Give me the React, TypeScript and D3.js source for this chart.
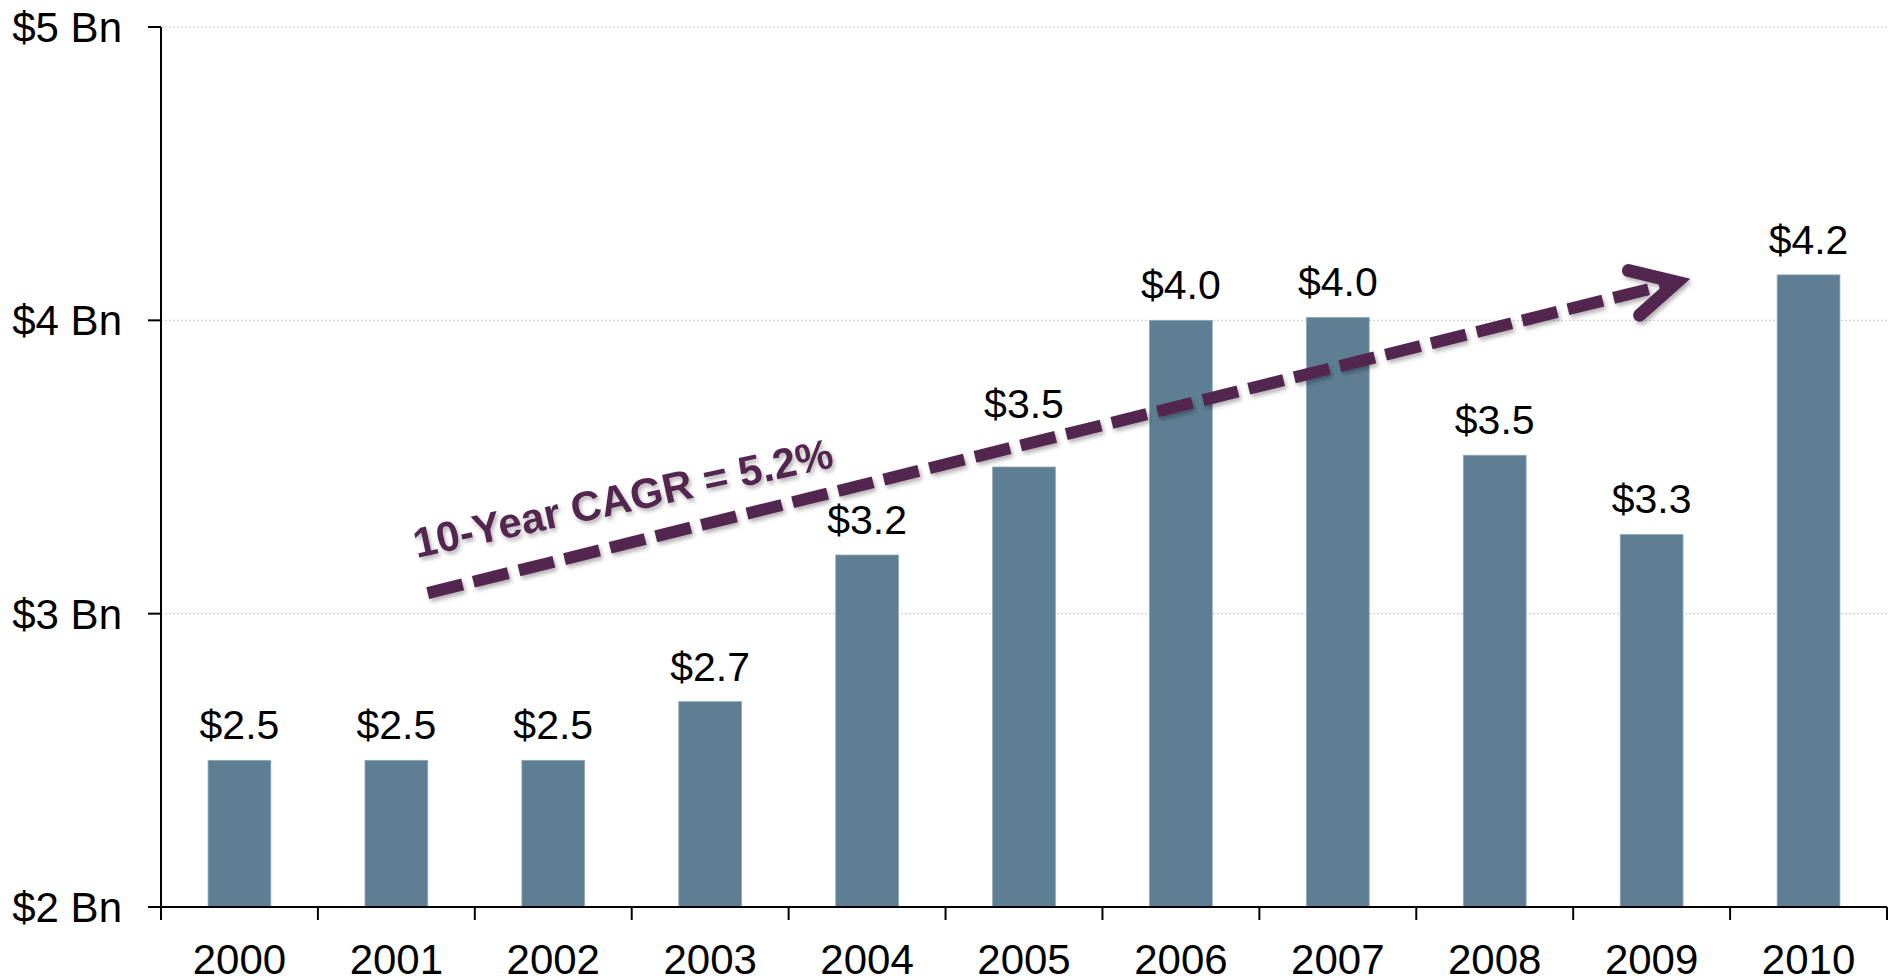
import React from "react";
import * as d3 from "d3";

const years = ["2000","2001","2002","2003","2004","2005","2006","2007","2008","2009","2010"];
const values = [2.5, 2.5, 2.5, 2.7, 3.2, 3.5, 4.0, 4.01, 3.54, 3.27, 4.155];
const valueLabels = ["$2.5","$2.5","$2.5","$2.7","$3.2","$3.5","$4.0","$4.0","$3.5","$3.3","$4.2"];
const yTicks = [2, 3, 4, 5];
const yTickLabels = ["$2 Bn", "$3 Bn", "$4 Bn", "$5 Bn"];
const gridTicks = [3, 4, 5];
const cagrText = "10-Year CAGR = 5.2%";
// arrow annotation endpoints in data space: [category position, value]
const arrowStart = [1.7, 3.07];
const arrowEnd = [9.66, 4.13];
const textAnchorPos = [1.63, 3.19];

const W = 1890, H = 978;
const left = 161, right = 1887, top = 27, bottom = 907;
const FONT = "'Liberation Sans', Arial, sans-serif";
const BAR = "#5E7F93";
const PURPLE = "#532750";
// 2005 label is lifted above the arrow
const liftedLabel = "2005";

export default function App() {
  const x = d3.scaleBand<string>().domain(years).range([left, right]).paddingInner(0.6).paddingOuter(0.3);
  const xStep = d3.scaleLinear().domain([0, years.length]).range([left, right]);
  const y = d3.scaleLinear().domain([2, 5]).range([bottom, top]);

  const x0 = xStep(arrowStart[0]), y0 = y(arrowStart[1]);
  const x1 = xStep(arrowEnd[0]), y1 = y(arrowEnd[1]);
  const ang = Math.atan2(y1 - y0, x1 - x0);
  const ux = Math.cos(ang), uy = Math.sin(ang);
  const nx = -uy, ny = ux;
  const back = 44, half = 23;
  const a1 = [x1 - ux * back + nx * half, y1 - uy * back + ny * half];
  const a2 = [x1 - ux * back - nx * half, y1 - uy * back - ny * half];
  const lineEnd = [x1 - ux * 8, y1 - uy * 8];
  const tx = xStep(textAnchorPos[0]), ty = y(textAnchorPos[1]);

  const tickBoundaries = d3.range(years.length + 1).map((i) => xStep(i));

  return (
    <svg width={W} height={H} style={{ position: "absolute", left: 0, top: 0, background: "#fff" }} fontFamily={FONT}>
      <defs>
        <filter id="shadow" x="-10%" y="-50%" width="120%" height="200%">
          <feDropShadow dx="2" dy="3" stdDeviation="2" floodColor="#000" floodOpacity="0.3" />
        </filter>
      </defs>
      {gridTicks.map((t) => (
        <line key={t} x1={left} x2={right} y1={y(t)} y2={y(t)} stroke="#c8c8c8" strokeWidth={1} strokeDasharray="2,2" />
      ))}
      {years.map((yr, i) => (
        <rect key={yr} x={x(yr)} y={y(values[i])} width={x.bandwidth()} height={bottom - y(values[i])} fill={BAR} stroke="#8fa8b8" strokeWidth={0.8} />
      ))}
      {years.map((yr, i) => (
        <text key={yr} x={x(yr)! + x.bandwidth() / 2} y={y(values[i]) - (yr === liftedLabel ? 49 : 21)} textAnchor="middle" fontSize={41} fill="#000">
          {valueLabels[i]}
        </text>
      ))}
      {/* axes */}
      <line x1={left} x2={left} y1={top} y2={bottom} stroke="#000" strokeWidth={2} />
      <line x1={left} x2={right} y1={bottom} y2={bottom} stroke="#000" strokeWidth={2} />
      {yTicks.map((t, i) => (
        <g key={t}>
          <line x1={left - 13} x2={left} y1={y(t)} y2={y(t)} stroke="#000" strokeWidth={2} />
          <text x={122} y={y(t)} dy="0.36em" textAnchor="end" fontSize={42} fill="#000">
            {yTickLabels[i]}
          </text>
        </g>
      ))}
      {tickBoundaries.map((bx, i) => (
        <line key={i} x1={bx} x2={bx} y1={bottom} y2={bottom + 13} stroke="#000" strokeWidth={2} />
      ))}
      {years.map((yr) => (
        <text key={yr} x={x(yr)! + x.bandwidth() / 2} y={974} textAnchor="middle" fontSize={42} fill="#000">
          {yr}
        </text>
      ))}
      {/* CAGR arrow */}
      <g filter="url(#shadow)">
        <line x1={x0} y1={y0} x2={lineEnd[0]} y2={lineEnd[1]} stroke={PURPLE} strokeWidth={12} strokeDasharray="36,11" />
        <path d={`M${a1[0]},${a1[1]}L${x1},${y1}L${a2[0]},${a2[1]}`} fill="none" stroke={PURPLE} strokeWidth={13} strokeLinecap="round" strokeLinejoin="miter" />
        <text transform={`translate(${tx},${ty}) rotate(-12.3)`} fontSize={42} fontWeight="bold" fill={PURPLE}>
          {cagrText}
        </text>
      </g>
    </svg>
  );
}
